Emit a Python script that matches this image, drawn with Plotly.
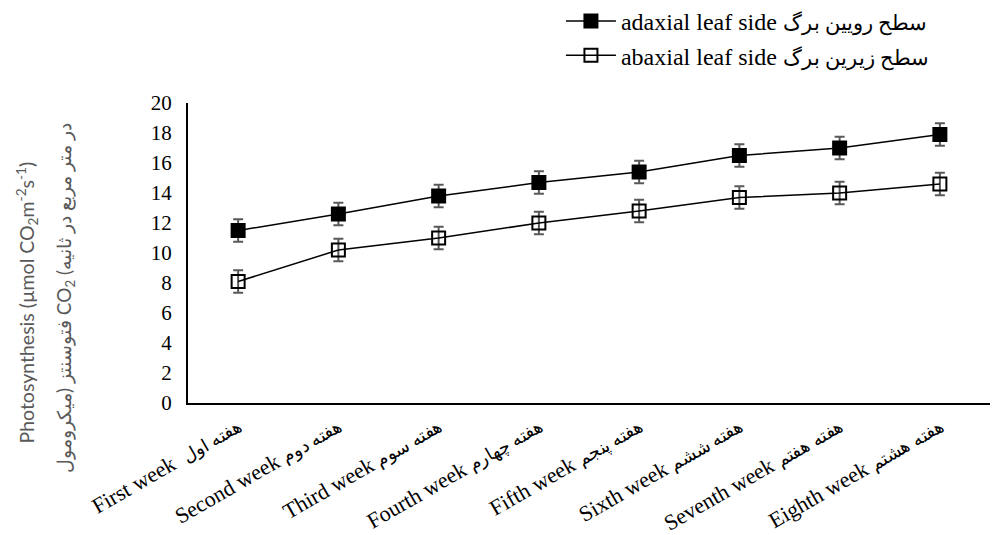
import plotly.graph_objects as go

weeks_en = ["First week ", "Second week", "Third week", "Fourth week",
            "Fifth week", "Sixth week", "Seventh week", "Eighth week"]
weeks_fa = ["هفته اول", "هفته دوم", "هفته سوم", "هفته چهارم",
            "هفته پنجم", "هفته ششم", "هفته هفتم", "هفته هشتم"]
adaxial = [11.5, 12.6, 13.8, 14.7, 15.4, 16.5, 17.0, 17.9]
abaxial = [8.1, 10.2, 11.0, 12.0, 12.8, 13.7, 14.0, 14.6]
adaxial_err = [0.75, 0.75, 0.75, 0.75, 0.75, 0.75, 0.75, 0.75]
abaxial_err = [0.75, 0.75, 0.75, 0.75, 0.75, 0.75, 0.75, 0.75]
y_ticks = [0, 2, 4, 6, 8, 10, 12, 14, 16, 18, 20]

weeks = [f"{en} {fa}" for en, fa in zip(weeks_en, weeks_fa)]
week_labels = [f"{en} <span style='font-size:18px'>{fa}</span>"
               for en, fa in zip(weeks_en, weeks_fa)]

series_en = ["adaxial leaf side", "abaxial leaf side"]
series_fa = ["سطح رویین برگ", "سطح زیرین برگ"]
series_names = [f"{en} <span style='font-size:21px'>{fa}</span>"
                for en, fa in zip(series_en, series_fa)]

RLI, PDI = "\u2067", "\u2069"
title_en = "Photosynthesis (µmol CO<sub>2</sub>m<sup>-2</sup>s<sup>-1</sup>)"
title_fa = (f"\u200e{RLI}فتوسنتز (میکرومول{PDI} CO<sub>2</sub> "
            f"{RLI}در متر مربع در ثانیه){PDI}")

serif = "Liberation Serif, Times New Roman, serif"
sans = "Lato, Open Sans, sans-serif"
err_color = "#595959"

fig = go.Figure()
fig.add_trace(go.Scatter(
    x=weeks, y=adaxial, name=series_names[0],
    legendgroup="a",
    mode="lines+markers",
    line=dict(color="black", width=1.5),
    marker=dict(symbol="square", size=15, color="black"),
    error_y=dict(type="data", array=adaxial_err, color=err_color, thickness=2, width=5),
))
fig.add_trace(go.Scatter(
    x=weeks, y=abaxial, name=series_names[1],
    legendgroup="b",
    mode="lines+markers",
    line=dict(color="black", width=1.5),
    marker=dict(symbol="square-open", size=13, color="black", line=dict(width=2)),
    error_y=dict(type="data", array=abaxial_err, color=err_color, thickness=2, width=5),
))

# Two-line rotated y-axis title (English + Persian)
fig.add_annotation(
    text=title_en, textangle=-90, showarrow=False,
    xref="paper", yref="paper", x=0, y=0.335, xanchor="center", yanchor="middle",
    xshift=-162, font=dict(family=sans, size=19.5, color="#595959"),
)
fig.add_annotation(
    text=title_fa, textangle=-90, showarrow=False,
    xref="paper", yref="paper", x=0, y=0.35, xanchor="center", yanchor="middle",
    xshift=-123, font=dict(family=sans, size=19, color="#595959"),
)

fig.update_layout(
    width=992, height=535,
    margin=dict(l=188, r=2, t=103, b=132, autoexpand=False),
    paper_bgcolor="white", plot_bgcolor="white",
    font=dict(family=serif, size=18, color="black"),
    legend=dict(
        x=0.465, y=1.347, xanchor="left", yanchor="top",
        font=dict(family=serif, size=24, color="black"),
        itemwidth=50, tracegroupgap=0,
        bgcolor="rgba(0,0,0,0)",
    ),
    showlegend=True,
)
fig.update_xaxes(
    type="category", range=[-0.5, 7.5], automargin=False,
    tickvals=weeks, ticktext=week_labels,
    showline=True, linecolor="black", linewidth=2,
    showgrid=False, ticks="", tickangle=-30,
    tickfont=dict(family=serif, size=22, color="black"),
)
fig.update_yaxes(
    range=[0, 20], tickvals=y_ticks, automargin=False,
    showline=True, linecolor="black", linewidth=2,
    showgrid=False, zeroline=False, ticks="",
    ticklabelstandoff=10,
    tickfont=dict(family=serif, size=21, color="black"),
)

fig.write_html("out.html")
